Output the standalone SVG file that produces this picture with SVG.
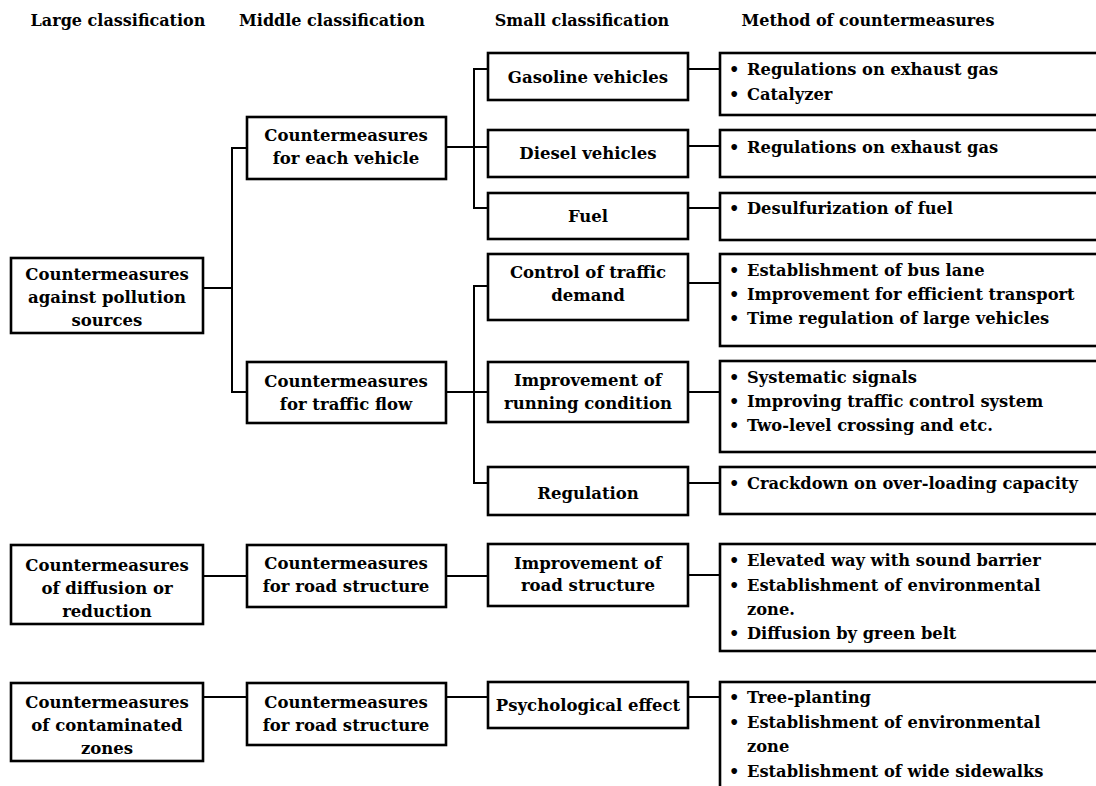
<svg xmlns="http://www.w3.org/2000/svg" width="1096" height="786" viewBox="0 0 1096 786">
<style>
.bg{fill:#fff}
.box{fill:#fff;stroke:#000;stroke-width:2.6}
.con{fill:none;stroke:#000;stroke-width:2}
text{font-family:"DejaVu Serif","Liberation Serif",serif;font-weight:bold;fill:#000}
.h{font-size:16px;text-anchor:middle}
.t{font-size:16.5px;text-anchor:middle}
.m{font-size:16.3px}
</style>
<rect class="bg" x="0" y="0" width="1096" height="786"/>
<g id="headers">
<text class="h" x="118" y="26">Large classification</text>
<text class="h" x="332" y="26">Middle classification</text>
<text class="h" x="582" y="26">Small classification</text>
<text class="h" x="868" y="26">Method of countermeasures</text>
</g>
<g id="connectors">
<path class="con" d="M203,288 H232 M247,148 H232 V392 H247"/>
<path class="con" d="M446,147 H488 M488,69 H474 V208 H488"/>
<path class="con" d="M688,69 H720 M688,146 H720 M688,208 H720"/>
<path class="con" d="M446,392 H488 M488,286 H474 V483 H488"/>
<path class="con" d="M688,283 H720 M688,392 H720 M688,483 H720"/>
<path class="con" d="M203,576 H247 M446,576 H488 M688,575 H720"/>
<path class="con" d="M203,697 H247 M446,697 H488 M688,697 H720"/>
</g>
<g id="large1"><rect class="box" x="11" y="258" width="192" height="75"/>
<text class="t" x="107" y="280">Countermeasures</text><text class="t" x="107" y="303">against pollution</text><text class="t" x="107" y="326">sources</text></g>
<g id="large2"><rect class="box" x="11" y="545" width="192" height="79"/>
<text class="t" x="107" y="571">Countermeasures</text><text class="t" x="107" y="594">of diffusion or</text><text class="t" x="107" y="617">reduction</text></g>
<g id="large3"><rect class="box" x="11" y="683" width="192" height="78"/>
<text class="t" x="107" y="708">Countermeasures</text><text class="t" x="107" y="731">of contaminated</text><text class="t" x="107" y="754">zones</text></g>
<g id="middle1"><rect class="box" x="247" y="117" width="199" height="62"/>
<text class="t" x="346" y="141">Countermeasures</text><text class="t" x="346" y="164">for each vehicle</text></g>
<g id="middle2"><rect class="box" x="247" y="362" width="199" height="61"/>
<text class="t" x="346" y="387">Countermeasures</text><text class="t" x="346" y="410">for traffic flow</text></g>
<g id="middle3"><rect class="box" x="247" y="545" width="199" height="62"/>
<text class="t" x="346" y="569">Countermeasures</text><text class="t" x="346" y="592">for road structure</text></g>
<g id="middle4"><rect class="box" x="247" y="683" width="199" height="62"/>
<text class="t" x="346" y="708">Countermeasures</text><text class="t" x="346" y="731">for road structure</text></g>
<g id="small1"><rect class="box" x="488" y="53" width="200" height="47"/><text class="t" x="588" y="83">Gasoline vehicles</text></g>
<g id="small2"><rect class="box" x="488" y="130" width="200" height="47"/><text class="t" x="588" y="159">Diesel vehicles</text></g>
<g id="small3"><rect class="box" x="488" y="193" width="200" height="46"/><text class="t" x="588" y="222">Fuel</text></g>
<g id="small4"><rect class="box" x="488" y="254" width="200" height="66"/><text class="t" x="588" y="278">Control of traffic</text><text class="t" x="588" y="301">demand</text></g>
<g id="small5"><rect class="box" x="488" y="362" width="200" height="60"/><text class="t" x="588" y="386">Improvement of</text><text class="t" x="588" y="409">running condition</text></g>
<g id="small6"><rect class="box" x="488" y="467" width="200" height="48"/><text class="t" x="588" y="499">Regulation</text></g>
<g id="small7"><rect class="box" x="488" y="544" width="200" height="62"/><text class="t" x="588" y="569">Improvement of</text><text class="t" x="588" y="591">road structure</text></g>
<g id="small8"><rect class="box" x="488" y="682" width="200" height="46"/><text class="t" x="588" y="711">Psychological effect</text></g>
<g id="method1"><rect class="box" x="720" y="53" width="400" height="62"/>
<text class="m" y="75"><tspan x="729">•</tspan><tspan x="747">Regulations on exhaust gas</tspan></text>
<text class="m" y="100"><tspan x="729">•</tspan><tspan x="747">Catalyzer</tspan></text></g>
<g id="method2"><rect class="box" x="720" y="130" width="400" height="47"/>
<text class="m" y="153"><tspan x="729">•</tspan><tspan x="747">Regulations on exhaust gas</tspan></text></g>
<g id="method3"><rect class="box" x="720" y="193" width="400" height="47"/>
<text class="m" y="214"><tspan x="729">•</tspan><tspan x="747">Desulfurization of fuel</tspan></text></g>
<g id="method4"><rect class="box" x="720" y="254" width="400" height="92"/>
<text class="m" y="276"><tspan x="729">•</tspan><tspan x="747">Establishment of bus lane</tspan></text>
<text class="m" y="300"><tspan x="729">•</tspan><tspan x="747">Improvement for efficient transport</tspan></text>
<text class="m" y="324"><tspan x="729">•</tspan><tspan x="747">Time regulation of large vehicles</tspan></text></g>
<g id="method5"><rect class="box" x="720" y="361" width="400" height="91"/>
<text class="m" y="383"><tspan x="729">•</tspan><tspan x="747">Systematic signals</tspan></text>
<text class="m" y="407"><tspan x="729">•</tspan><tspan x="747">Improving traffic control system</tspan></text>
<text class="m" y="431"><tspan x="729">•</tspan><tspan x="747">Two-level crossing and etc.</tspan></text></g>
<g id="method6"><rect class="box" x="720" y="467" width="400" height="47"/>
<text class="m" y="489"><tspan x="729">•</tspan><tspan x="747">Crackdown on over-loading capacity</tspan></text></g>
<g id="method7"><rect class="box" x="720" y="544" width="400" height="107"/>
<text class="m" y="566"><tspan x="729">•</tspan><tspan x="747">Elevated way with sound barrier</tspan></text>
<text class="m" y="591"><tspan x="729">•</tspan><tspan x="747">Establishment of environmental</tspan></text>
<text class="m" x="747" y="615">zone.</text>
<text class="m" y="639"><tspan x="729">•</tspan><tspan x="747">Diffusion by green belt</tspan></text></g>
<g id="method8"><rect class="box" x="720" y="682" width="400" height="120"/>
<text class="m" y="703"><tspan x="729">•</tspan><tspan x="747">Tree-planting</tspan></text>
<text class="m" y="728"><tspan x="729">•</tspan><tspan x="747">Establishment of environmental</tspan></text>
<text class="m" x="747" y="752">zone</text>
<text class="m" y="777"><tspan x="729">•</tspan><tspan x="747">Establishment of wide sidewalks</tspan></text></g>
</svg>
